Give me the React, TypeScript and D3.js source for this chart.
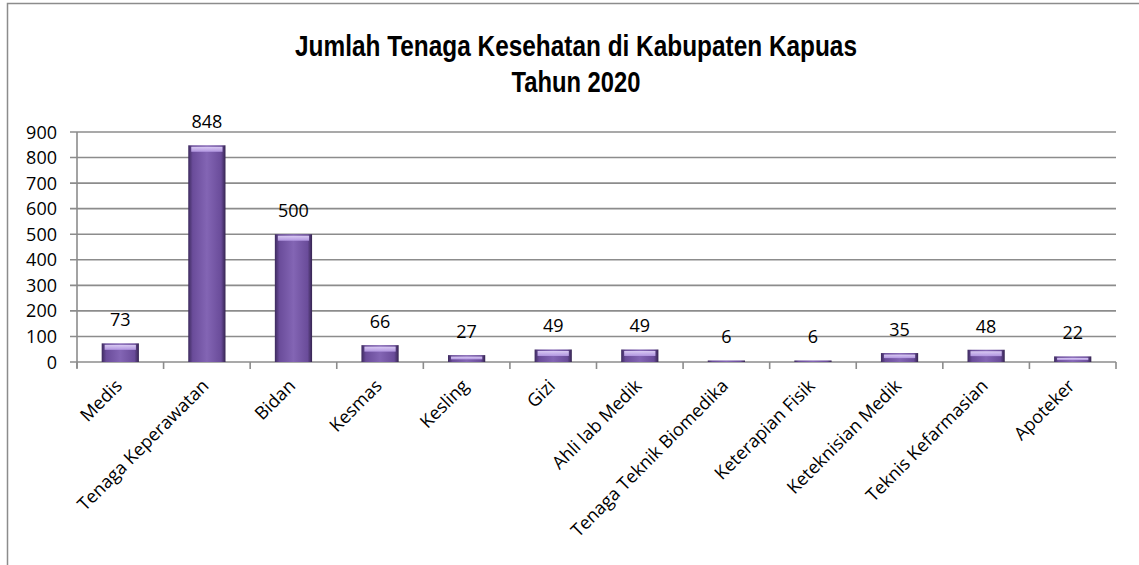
import React from "react";
import * as d3 from "d3";

const categories = [
  "Medis",
  "Tenaga Keperawatan",
  "Bidan",
  "Kesmas",
  "Kesling",
  "Gizi",
  "Ahli lab Medik",
  "Tenaga Teknik Biomedika",
  "Keterapian Fisik",
  "Keteknisian Medik",
  "Teknis Kefarmasian",
  "Apoteker",
];
const values = [73, 848, 500, 66, 27, 49, 49, 6, 6, 35, 48, 22];
const yTicks = [0, 100, 200, 300, 400, 500, 600, 700, 800, 900];
const titleLines = ["Jumlah Tenaga Kesehatan di Kabupaten Kapuas", "Tahun 2020"];

const W = 1139;
const H = 565;
const left = 77;
const right = 1116;
const top = 132;
const bottom = 362;

export default function App() {
  const x = d3
    .scaleBand<string>()
    .domain(categories)
    .range([left, right])
    .paddingInner(0.57)
    .paddingOuter(0.285);
  const y = d3.scaleLinear().domain([0, 900]).range([bottom, top]);
  const step = x.step();
  const tickXs = d3.range(categories.length + 1).map((i) => left + i * step);
  const labelFont = "'Open Sans', 'Noto Sans', sans-serif";
  const titleLengths = [562, 129];
  const titleBaselines = [56, 92];

  return (
    <svg
      width={W}
      height={H}
      style={{ position: "absolute", left: 0, top: 0, background: "#fff" }}
    >
      <defs>
        <linearGradient id="barG" x1="0" x2="1" y1="0" y2="0">
          <stop offset="0" stopColor="#3d2a5e" />
          <stop offset="0.12" stopColor="#6a4c9a" />
          <stop offset="0.5" stopColor="#8365b4" />
          <stop offset="0.88" stopColor="#6a4c9a" />
          <stop offset="1" stopColor="#352450" />
        </linearGradient>
        <linearGradient id="capG" x1="0" x2="0" y1="0" y2="1">
          <stop offset="0" stopColor="#e3d6fa" />
          <stop offset="1" stopColor="#b79ce6" />
        </linearGradient>
      </defs>
      <rect x={7.5} y={3.5} width={W} height={H} fill="#fff" stroke="#8c8c8c" strokeWidth={1.5} />
      <g fontFamily="'Liberation Sans', Arial, sans-serif" fontWeight="bold" fontSize={30} textAnchor="middle" fill="#000">
        {titleLines.map((t, i) => (
          <text
            key={i}
            x={576}
            y={titleBaselines[i]}
            textLength={titleLengths[i]}
            lengthAdjust="spacingAndGlyphs"
          >
            {t}
          </text>
        ))}
      </g>
      {yTicks.map((t) => (
        <line key={t} x1={left - 7} x2={right} y1={y(t)} y2={y(t)} stroke="#8c8c8c" strokeWidth={1.6} />
      ))}
      <line x1={left} x2={left} y1={top} y2={bottom + 6} stroke="#8c8c8c" strokeWidth={1.6} />
      {tickXs.map((tx, i) => (
        <line key={i} x1={tx} x2={tx} y1={bottom} y2={bottom + 7} stroke="#8c8c8c" strokeWidth={1.6} />
      ))}
      <g fontFamily={labelFont} fontSize={18} textAnchor="end" fill="#000">
        {yTicks.map((t) => (
          <text key={t} x={57} y={y(t) + 6.5}>
            {t}
          </text>
        ))}
      </g>
      {categories.map((c, i) => {
        const bx = x(c)!;
        const bw = x.bandwidth();
        const by = y(values[i]);
        const bh = bottom - by;
        const capH = Math.min(5, bh * 0.4);
        return (
          <g key={c}>
            <rect x={bx} y={by} width={bw} height={bh} fill="url(#barG)" />
            {bh > 3 && (
              <rect x={bx + 3} y={by + 1.5} width={bw - 6} height={capH} fill="url(#capG)" opacity={0.9} />
            )}
          </g>
        );
      })}
      <g fontFamily={labelFont} fontSize={18} textAnchor="middle" fill="#000">
        {categories.map((c, i) => (
          <text key={c} x={x(c)! + x.bandwidth() / 2} y={y(values[i]) - 17}>
            {values[i]}
          </text>
        ))}
      </g>
      <g fontFamily={labelFont} fontSize={18} textAnchor="end" fill="#000">
        {categories.map((c) => {
          const cx = x(c)! + x.bandwidth() / 2;
          return (
            <text key={c} transform={`translate(${cx + 3},${387}) rotate(-45)`}>
              {c}
            </text>
          );
        })}
      </g>
    </svg>
  );
}
